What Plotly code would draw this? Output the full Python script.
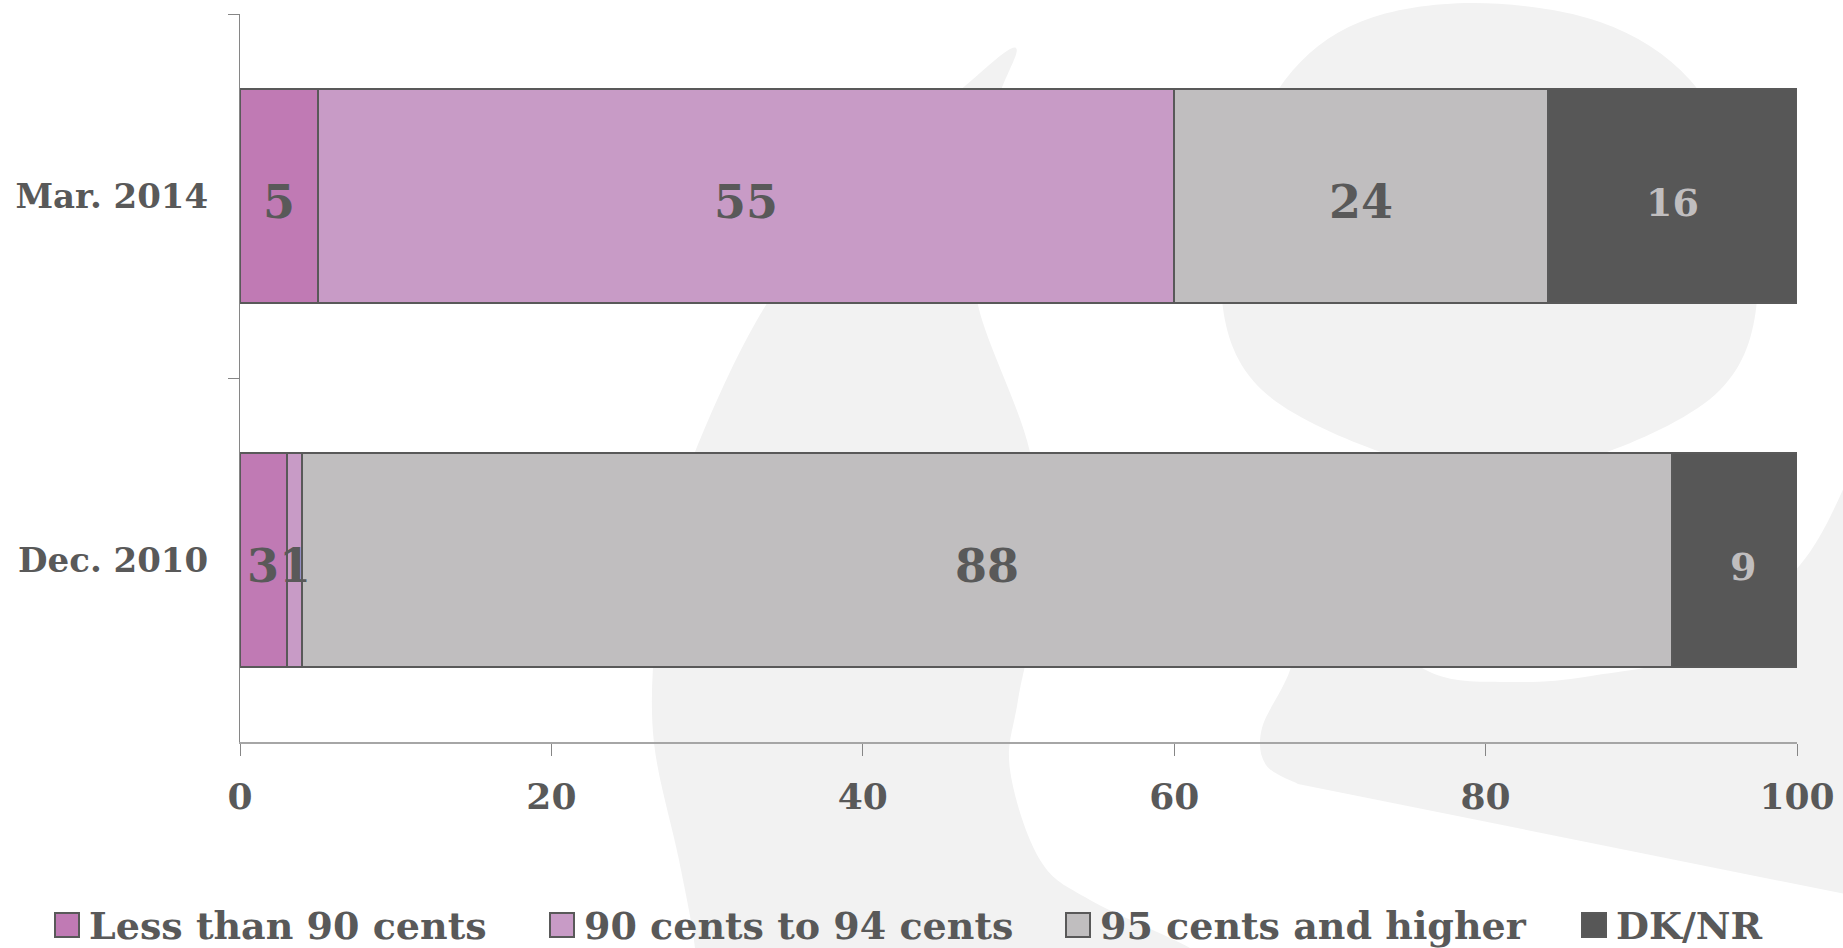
import plotly.graph_objects as go

# ---------------- data ----------------
categories = ["Mar. 2014", "Dec. 2010"]
series_names = ["Less than 90 cents", "90 cents to 94 cents", "95 cents and higher", "DK/NR"]
less_than_90 = [5, 3]
cents_90_to_94 = [55, 1]
cents_95_up = [24, 88]
dk_nr = [16, 9]
x_ticks = [0, 20, 40, 60, 80, 100]

series_values = [less_than_90, cents_90_to_94, cents_95_up, dk_nr]

# ---------------- styles ----------------
bar_colors = ["#c07ab4", "#c89bc6", "#c0bebf", "#575757"]
label_colors = ["#595959", "#595959", "#595959", "#c0bebf"]
label_sizes = [46, 46, 46, 38]
text_color = "#595959"
FONT = "DejaVu Serif"
W, H = 1843, 948
L, R, T, B = 240, 1797, 14, 742  # plot area in pixels


def px(x):
    return (x - L) / (R - L)


def py(y):
    return (B - y) / (B - T)


def smooth_chain(pts):
    segs = []
    n = len(pts)
    for i in range(n - 1):
        p0 = pts[i - 1] if i > 0 else pts[i]
        p1 = pts[i]
        p2 = pts[i + 1]
        p3 = pts[i + 2] if i + 2 < n else pts[i + 1]
        c1 = (p1[0] + (p2[0] - p0[0]) / 6, p1[1] + (p2[1] - p0[1]) / 6)
        c2 = (p2[0] - (p3[0] - p1[0]) / 6, p2[1] - (p3[1] - p1[1]) / 6)
        segs.append((c1, c2, p2))
    return segs


def closed_smooth(pts):
    ext = [pts[-1]] + pts + [pts[0], pts[1]]
    segs = []
    for i in range(1, len(pts) + 1):
        p0, p1, p2, p3 = ext[i - 1], ext[i], ext[i + 1], ext[i + 2]
        c1 = (p1[0] + (p2[0] - p0[0]) / 6, p1[1] + (p2[1] - p0[1]) / 6)
        c2 = (p2[0] - (p3[0] - p1[0]) / 6, p2[1] - (p3[1] - p1[1]) / 6)
        segs.append((c1, c2, p2))
    return segs


def P(p):
    return f"{px(p[0]):.5f},{py(p[1]):.5f}"


def path_closed(pts):
    s = "M " + P(pts[0])
    for c1, c2, p in closed_smooth(pts):
        s += f" C {P(c1)} {P(c2)} {P(p)}"
    return s + " Z"


def path_chain_then_lines(chain, lines):
    s = "M " + P(chain[0])
    for c1, c2, p in smooth_chain(chain):
        s += f" C {P(c1)} {P(c2)} {P(p)}"
    for p in lines:
        s += f" L {P(p)}"
    return s + " Z"


# ---------------- figure ----------------
fig = go.Figure()

for name, vals, col in zip(series_names, series_values, bar_colors):
    fig.add_trace(go.Bar(
        y=categories, x=vals, name=name, orientation="h",
        marker=dict(color=col, line=dict(color="#595959", width=2)),
        showlegend=False, hoverinfo="skip",
    ))

# value labels at segment centres
annotations = []
for j, cat in enumerate(categories):
    start = 0
    for i, vals in enumerate(series_values):
        v = vals[j]
        annotations.append(dict(
            x=start + v / 2, y=cat, xref="x", yref="y", text=str(v),
            showarrow=False, yshift=-6,
            font=dict(family=FONT, size=label_sizes[i], color=label_colors[i], weight="bold"),
        ))
        start += v

# legend (manual, large swatches)
legend_swatch_x = [55, 550, 1066, 1582]
legend_y = 925
sw = 24
shapes = []
for name, col, lx in zip(series_names, bar_colors, legend_swatch_x):
    shapes.append(dict(
        type="rect", xref="paper", yref="paper",
        x0=px(lx), x1=px(lx + sw), y0=py(legend_y - sw / 2), y1=py(legend_y + sw / 2),
        fillcolor=col, line=dict(color="#595959", width=2),
    ))
    annotations.append(dict(
        x=px(lx + sw + 8), y=py(legend_y), xref="paper", yref="paper",
        xanchor="left", yanchor="middle", text=name, showarrow=False,
        font=dict(family=FONT, size=38, color=text_color, weight="bold"),
    ))

# background watermark
wm = "#f2f2f2"
leg_pts = [(1016, 48), (995, 110), (980, 220), (978, 305), (1030, 452), (1040, 580),
           (1018, 700), (1010, 770), (1040, 860), (1090, 900), (1190, 948), (1220, 975),
           (690, 975), (695, 948), (679, 860), (654, 743), (655, 640), (670, 540),
           (695, 452), (766, 305), (870, 170), (965, 86)]
egg_pts = [(1473, 3), (1600, 22), (1690, 80), (1740, 180), (1757, 300), (1720, 390),
           (1607, 452), (1494, 472), (1381, 452), (1262, 390), (1222, 300), (1240, 180),
           (1285, 80), (1360, 22)]
cres_chain = [(1850, 475), (1800, 565), (1700, 650), (1591, 676), (1510, 682),
              (1432, 673), (1370, 620), (1330, 540), (1300, 610), (1290, 670),
              (1262, 728), (1266, 765), (1298, 784)]
cres_lines = [(1850, 895)]
for pth in [path_closed(leg_pts), path_closed(egg_pts),
            path_chain_then_lines(cres_chain, cres_lines)]:
    shapes.append(dict(type="path", path=pth, xref="paper", yref="paper",
                       fillcolor=wm, line=dict(width=0), layer="below"))

fig.update_layout(
    width=W, height=H,
    margin=dict(l=L, r=W - R, t=T, b=H - B, pad=0, autoexpand=False),
    barmode="stack", bargap=0.41,
    paper_bgcolor="white", plot_bgcolor="rgba(0,0,0,0)",
    showlegend=False,
    shapes=shapes, annotations=annotations,
    font=dict(family=FONT, color=text_color),
)
fig.update_xaxes(
    range=[0, 100], tickvals=x_ticks, ticktext=[str(t) for t in x_ticks],
    showgrid=False, zeroline=False, automargin=False,
    showline=True, linecolor="#a6a6a6", linewidth=2,
    ticks="outside", ticklen=12, tickcolor="#868686", tickwidth=1,
    tickfont=dict(family=FONT, size=36, color=text_color, weight="bold"),
    ticklabelstandoff=10,
)
fig.update_yaxes(
    categoryorder="array", categoryarray=categories, autorange="reversed",
    showgrid=False, zeroline=False, automargin=False,
    showline=True, linecolor="#868686", linewidth=1,
    ticks="outside", ticklen=11, tickcolor="#868686", tickwidth=1,
    tickson="boundaries",
    tickfont=dict(family=FONT, size=34, color=text_color, weight="bold"),
    ticklabelstandoff=24,
)

fig.write_html("out.html")
